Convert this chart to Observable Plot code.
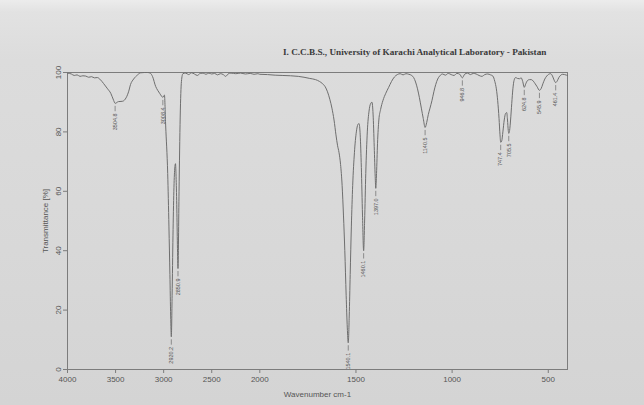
<!DOCTYPE html>
<html>
<head>
<meta charset="utf-8">
<script src="https://cdn.jsdelivr.net/npm/d3@7"></script>
<script src="https://cdn.jsdelivr.net/npm/@observablehq/plot@0.6"></script>
<style>
  html, body { margin: 0; padding: 0; }
  body {
    width: 644px; height: 405px; overflow: hidden; position: relative;
    background: linear-gradient(to bottom, #ececec 0px, #e2e2e2 12px, #dcdcdc 60px, #d8d8d8 250px, #d4d4d4 405px);
  }
  #title {
    position: absolute; left: 283px; top: 47px;
    font-family: "Liberation Serif", serif; font-weight: bold; font-size: 9.2px;
    color: #3a3a3a; white-space: nowrap;
  }
  #chart { position: absolute; left: 0; top: 0; }
</style>
</head>
<body>
<div id="title">I. C.C.B.S., University of Karachi Analytical Laboratory - Pakistan</div>
<div id="chart"></div>
<script>
// Spectrum: wavenumber (cm-1) and transmittance (%)
const wavenumber = [
  4000, 3960, 3930, 3900, 3870, 3840, 3810, 3780, 3750, 3720, 3690, 3656, 3625, 3583, 3550, 3520,
  3504.8, 3470, 3430, 3400, 3365, 3344, 3312, 3271, 3240, 3200, 3167, 3140, 3115, 3083, 3062, 3042,
  3021, 3008.4, 2992, 2979, 2958, 2945, 2935, 2927, 2920.2, 2912, 2903, 2894, 2885, 2877, 2870,
  2863, 2857, 2850.9, 2840, 2828, 2815, 2800, 2770, 2740, 2710, 2680, 2650, 2620, 2590, 2560,
  2530, 2500, 2470, 2440, 2410, 2380, 2355, 2330, 2300, 2250, 2200, 2150, 2100, 2060, 2020,
  2000, 1960, 1920, 1880, 1840, 1800, 1770, 1740, 1710, 1690, 1675, 1660, 1648, 1636, 1625,
  1614, 1604, 1596, 1588, 1580, 1572, 1565, 1558, 1551, 1545, 1540.1, 1535, 1530, 1524, 1517,
  1508, 1498, 1490, 1484, 1478, 1472, 1466, 1460.1, 1455, 1449, 1441, 1432, 1424, 1417, 1411,
  1405, 1400, 1397, 1393, 1388, 1381, 1372, 1360, 1345, 1330, 1315, 1300, 1285, 1270, 1255,
  1240, 1225, 1210, 1200, 1190, 1180, 1170, 1160, 1150, 1140.5, 1132, 1124, 1115, 1105, 1095,
  1085, 1075, 1065, 1050, 1035, 1020, 1005, 990, 975, 960, 946.8, 935, 920, 905, 890, 875, 860,
  845, 830, 815, 800, 788, 778, 770, 763, 756, 751, 747.4, 742, 736, 729, 722, 716, 712, 708,
  705.5, 701, 696, 690, 684, 678, 670, 660, 650, 641, 633, 624.8, 617, 608, 598, 588, 578, 568,
  558, 545.9, 537, 528, 518, 508, 498, 488, 478, 470, 461.4, 453, 445, 435, 425, 415, 405, 400
];
const transmittance = [
  99.8, 99.5, 99.0, 99.2, 98.7, 98.9, 98.8, 98.4, 98.6, 98.2, 98.3, 97.5, 96.3, 94.5, 93.0, 90.6,
  89.6, 90.2, 90.3, 91.0, 93.5, 96.0, 97.8, 99.2, 99.9, 100, 100, 99.8, 98.6, 95.3, 94.0, 93.0,
  92.0, 91.6, 92.4, 82.0, 66.0, 48.0, 32.0, 18.0, 11.0, 25.0, 45.0, 60.0, 67.5, 69.3, 64.0,
  54.0, 42.0, 34.0, 60.0, 85.0, 97.0, 99.6, 99.8, 99.3, 99.9, 99.5, 99.0, 99.7, 99.8, 99.4,
  99.8, 99.5, 99.7, 99.2, 99.6, 99.3, 98.7, 99.5, 99.8, 99.6, 99.8, 99.5, 99.7, 99.4, 99.6,
  99.4, 99.3, 99.1, 99.0, 98.9, 98.7, 98.4, 98.0, 97.6, 97.0, 96.3, 95.2, 93.5, 91.0, 88.0,
  84.0, 79.0, 75.5, 73.0, 69.0, 62.0, 52.0, 40.0, 25.0, 14.0, 9.0, 18.0, 32.0, 48.0, 62.0,
  73.0, 80.0, 82.5, 82.8, 79.0, 68.0, 52.0, 40.0, 50.0, 66.0, 80.0, 87.0, 89.5, 90.0, 86.0,
  75.0, 65.0, 61.0, 66.0, 76.0, 84.0, 87.5, 90.5, 93.0, 95.0, 97.0, 98.5, 99.3, 99.6, 99.2,
  99.6, 99.4, 99.0, 98.3, 96.8, 94.5, 91.5, 88.0, 84.5, 81.5, 83.2, 85.8, 88.0, 90.5, 93.5,
  96.0, 97.8, 98.8, 99.5, 99.1, 99.7, 99.3, 99.0, 99.7, 99.4, 98.2, 99.4, 99.8, 99.3, 99.7, 99.5, 99.0,
  98.7, 99.3, 99.5, 99.2, 98.8, 97.0, 94.5, 90.5, 84.5, 79.0, 76.5, 77.0, 80.0, 84.0, 86.2, 86.5, 84.0, 80.5,
  79.5, 80.5, 84.0, 89.5, 94.5, 97.3, 98.3, 98.0, 97.9, 98.2, 97.0, 95.0, 96.2, 97.3, 97.6, 97.6, 97.1, 96.2,
  95.2, 94.0, 94.6, 96.2, 97.8, 98.8, 99.4, 99.6, 98.8, 97.5, 96.6, 97.2, 98.3, 99.1, 99.4, 99.3, 99.1, 99.0
];

// Labelled peaks
const peakLabels = ["3504.8", "3008.4", "2920.2", "2850.9", "1540.1", "1460.1", "1397.0", "1140.5",
                    "946.8", "747.4", "705.5", "624.8", "545.9", "461.4"];
const peakWavenumber = [3504.8, 3008.4, 2920.2, 2850.9, 1540.1, 1460.1, 1397.0, 1140.5,
                        946.8, 747.4, 705.5, 624.8, 545.9, 461.4];
const peakTransmittance = [89.6, 91.6, 11.0, 34.0, 9.0, 40.0, 61.0, 81.5,
                           98.2, 76.5, 79.5, 95.0, 94.0, 96.6];

// Axis ticks
const xTicks = [4000, 3500, 3000, 2500, 2000, 1500, 1000, 500];
const yTicks = [0, 20, 40, 60, 80, 100];

// Instrument axis: scale halves above 2000 cm-1 (piecewise wavenumber axis)
const toU = w => (w >= 2000 ? (4000 - w) / 2 : 1000 + (2000 - w));
const fromU = u => (u <= 1000 ? 4000 - 2 * u : 2000 - (u - 1000));

const spectrum = wavenumber.map((w, i) => ({w, t: transmittance[i]}));
const peaks = peakLabels.map((label, i) => ({label, w: peakWavenumber[i], t: peakTransmittance[i]}));

const lineColor = "#6e6e6e";
const axisColor = "#7c7c7c";

const chart = Plot.plot({
  width: 644,
  height: 405,
  marginLeft: 67,
  marginRight: 77,
  marginTop: 72,
  marginBottom: 36,
  style: {fontFamily: "'Liberation Sans', Arial, sans-serif", fontSize: "7.5px", color: "#555", background: "transparent"},
  x: {domain: [toU(4000), toU(400)]},
  y: {domain: [0, 100]},
  marks: [
    Plot.frame({stroke: axisColor, strokeWidth: 1}),
    Plot.axisX({ticks: xTicks.map(toU), tickFormat: u => String(Math.round(fromU(u))), tickSize: 4, tickPadding: 3,
                fontSize: 8, stroke: axisColor,
                label: "Wavenumber cm-1", labelAnchor: "center", labelOffset: 27, labelArrow: "none"}),
    Plot.axisY({ticks: yTicks, tickSize: 4, tickPadding: 3, tickRotate: -90, fontSize: 8, stroke: axisColor,
                label: "Transmittance [%]", labelAnchor: "center", labelOffset: 25, labelArrow: "none"}),
    Plot.line(spectrum, {x: d => toU(d.w), y: "t", stroke: lineColor, strokeWidth: 1, curve: "monotone-x"}),
    Plot.ruleX(peaks, {x: d => toU(d.w), y1: d => d.t - 1.0, y2: d => d.t - 2.8, stroke: "#777", strokeWidth: 0.8}),
    Plot.text(peaks, {x: d => toU(d.w), y: "t", text: "label", rotate: -90, textAnchor: "end", dy: 10,
                      fontSize: 5.5, fill: "#555"})
  ]
});
document.getElementById("chart").appendChild(chart);
</script>
</body>
</html>
